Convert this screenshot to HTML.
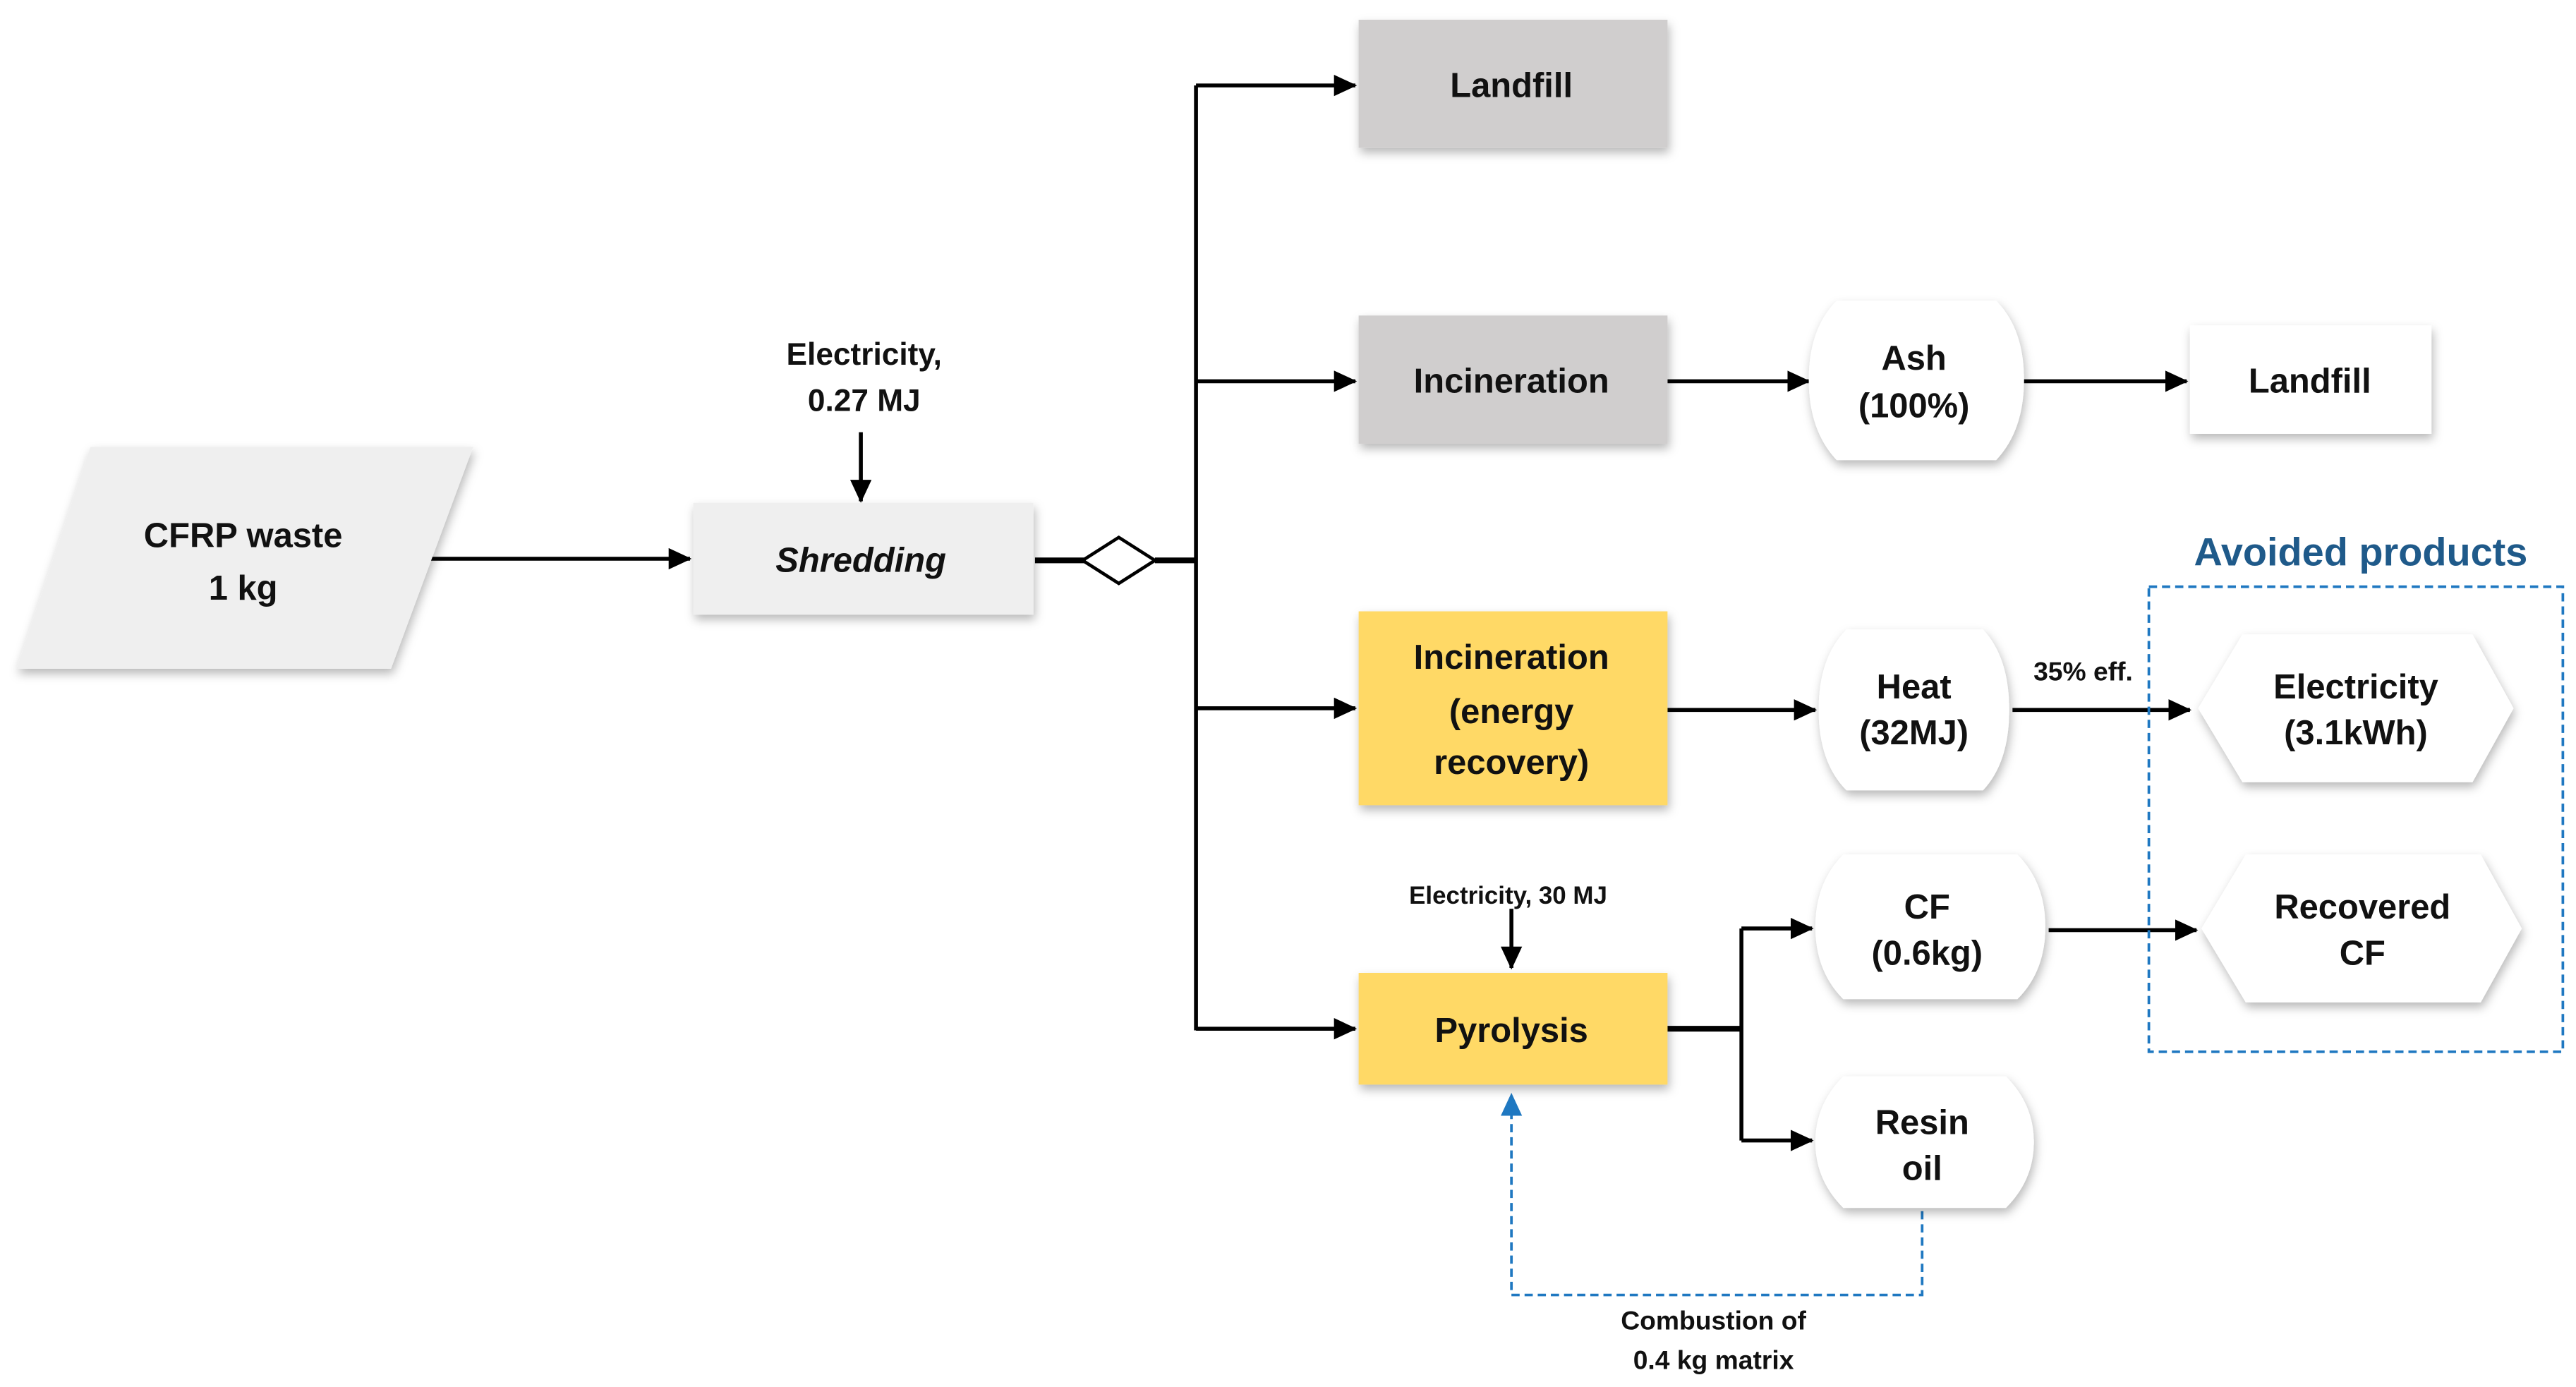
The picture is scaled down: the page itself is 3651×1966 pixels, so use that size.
<!DOCTYPE html>
<html><head><meta charset="utf-8"><style>
html,body{margin:0;padding:0;background:#fff;}
svg{display:block;}
text{font-family:"Liberation Sans",sans-serif;font-weight:bold;fill:#111;text-anchor:middle;}
</style></head><body>
<svg width="3651" height="1966" viewBox="0 0 1568 844" preserveAspectRatio="none" xmlns="http://www.w3.org/2000/svg">
<defs>
<filter id="sh" x="-20%" y="-20%" width="140%" height="150%"><feDropShadow dx="1" dy="3" stdDeviation="3" flood-color="#000" flood-opacity="0.28"/></filter>
<marker id="ar" markerWidth="14" markerHeight="14" refX="13" refY="6.5" orient="auto" markerUnits="userSpaceOnUse"><path d="M0,0 L14,6.5 L0,13 Z" fill="#000"/></marker>
<marker id="arb" markerWidth="14" markerHeight="16" refX="13" refY="6.5" orient="auto" markerUnits="userSpaceOnUse"><path d="M0,0 L14,6.5 L0,13 Z" fill="#1f78c1"/></marker>
</defs>
<g stroke="#000" stroke-width="2.4" fill="none">
<line x1="262" y1="340" x2="420" y2="340" marker-end="url(#ar)"/>
<line x1="524" y1="263" x2="524" y2="305" marker-end="url(#ar)"/>
<line x1="630" y1="341" x2="660" y2="341" stroke-width="3.5"/>
<line x1="703" y1="341" x2="728" y2="341" stroke-width="3.5"/>
<line x1="728" y1="52" x2="728" y2="627"/>
<line x1="728" y1="52" x2="825" y2="52" marker-end="url(#ar)"/>
<line x1="728" y1="232" x2="825" y2="232" marker-end="url(#ar)"/>
<line x1="728" y1="431" x2="825" y2="431" marker-end="url(#ar)"/>
<line x1="728" y1="626" x2="825" y2="626" marker-end="url(#ar)"/>
<line x1="1015" y1="232" x2="1101" y2="232" marker-end="url(#ar)"/>
<line x1="1232" y1="232" x2="1331" y2="232" marker-end="url(#ar)"/>
<line x1="1015" y1="432" x2="1105" y2="432" marker-end="url(#ar)"/>
<line x1="1225" y1="432" x2="1333" y2="432" marker-end="url(#ar)"/>
<line x1="920" y1="553" x2="920" y2="589" marker-end="url(#ar)"/>
<line x1="1015" y1="626" x2="1060" y2="626" stroke-width="3.5"/>
<line x1="1060" y1="565" x2="1060" y2="694"/>
<line x1="1060" y1="565" x2="1103" y2="565" marker-end="url(#ar)"/>
<line x1="1060" y1="694" x2="1103" y2="694" marker-end="url(#ar)"/>
<line x1="1247" y1="566" x2="1337" y2="566" marker-end="url(#ar)"/>
</g>
<path d="M659,341 L681,327 L703,341 L681,355 Z" fill="#fff" stroke="#000" stroke-width="2"/>
<path d="M1170,737 V788 H920 V666" fill="none" stroke="#1f78c1" stroke-width="1.6" stroke-dasharray="5,3" marker-end="url(#arb)"/>
<rect x="1308" y="357" width="252" height="283" fill="none" stroke="#1f78c1" stroke-width="1.6" stroke-dasharray="5,3"/>
<g filter="url(#sh)">
<path d="M55,272 L288,272 L238,407 L10,407 Z" fill="#efefef"/>
<rect x="422" y="306" width="207" height="68" fill="#efefef"/>
<rect x="827" y="12" width="188" height="78" fill="#d0cece"/>
<rect x="827" y="192" width="188" height="78" fill="#d0cece"/>
<rect x="827" y="372" width="188" height="118" fill="#ffd966"/>
<rect x="827" y="592" width="188" height="68" fill="#ffd966"/>
<rect x="1333" y="198" width="147" height="66" fill="#fff"/>
<path d="M1118,183 H1215 Q1232,200 1232,231 Q1232,262 1215,280 H1118 Q1101,262 1101,231 Q1101,200 1118,183 Z" fill="#fff"/>
<path d="M1124,383 H1207 Q1223,400 1223,432 Q1223,464 1207,481 H1124 Q1107,464 1107,432 Q1107,400 1124,383 Z" fill="#fff"/>
<path d="M1122,520 H1228 Q1245,537 1245,564 Q1245,591 1228,608 H1122 Q1105,591 1105,564 Q1105,537 1122,520 Z" fill="#fff"/>
<path d="M1122,655 H1221 Q1238,672 1238,695 Q1238,718 1221,735 H1122 Q1105,718 1105,695 Q1105,672 1122,655 Z" fill="#fff"/>
<path d="M1365,386 L1505,386 L1530,431 L1505,476 L1365,476 L1338,431 Z" fill="#fff"/>
<path d="M1367,520 L1510,520 L1535,565 L1510,610 L1367,610 L1340,565 Z" fill="#fff"/>
</g>
<g font-size="21">
<text x="148" y="333">CFRP waste</text>
<text x="148" y="365">1 kg</text>
<text x="524" y="348" font-style="italic">Shredding</text>
<text x="526" y="222" font-size="19">Electricity,</text>
<text x="526" y="250" font-size="19">0.27 MJ</text>
<text x="920" y="59">Landfill</text>
<text x="920" y="239">Incineration</text>
<text x="920" y="407">Incineration</text>
<text x="920" y="440">(energy</text>
<text x="920" y="471">recovery)</text>
<text x="920" y="634">Pyrolysis</text>
<text x="918" y="550" font-size="15">Electricity,  30 MJ</text>
<text x="1165" y="225">Ash</text>
<text x="1165" y="254">(100%)</text>
<text x="1406" y="239">Landfill</text>
<text x="1165" y="425">Heat</text>
<text x="1165" y="453">(32MJ)</text>
<text x="1268" y="414" font-size="16">35% eff.</text>
<text x="1434" y="425">Electricity</text>
<text x="1434" y="453">(3.1kWh)</text>
<text x="1173" y="559">CF</text>
<text x="1173" y="587">(0.6kg)</text>
<text x="1438" y="559">Recovered</text>
<text x="1438" y="587">CF</text>
<text x="1170" y="690">Resin</text>
<text x="1170" y="718">oil</text>
<text x="1043" y="809" font-size="16">Combustion of</text>
<text x="1043" y="833" font-size="16">0.4 kg matrix</text>
<text x="1437" y="344" font-size="24" style="fill:#1f5a8a">Avoided products</text>
</g>
</svg>
</body></html>
